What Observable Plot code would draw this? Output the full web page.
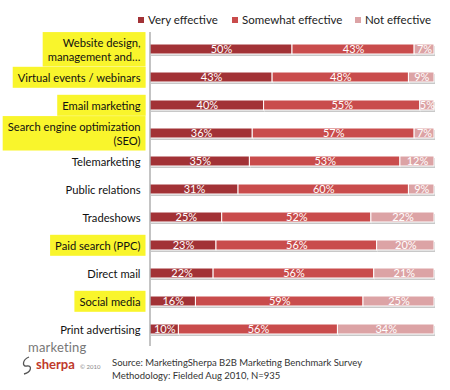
<!DOCTYPE html>
<html>
<head>
<meta charset="utf-8">
<script src="https://cdn.jsdelivr.net/npm/d3@7"></script>
<script src="https://cdn.jsdelivr.net/npm/@observablehq/plot@0.6"></script>
<style>
  body { margin: 0; background: #fff; font-family: Lato, "Open Sans", sans-serif; color: #222; }
  #wrap { position: relative; width: 450px; height: 390px; overflow: hidden; }
  #legend { position: absolute; left: 0; top: 0; width: 450px; height: 25px; font-size: 11.5px; }
  .li { position: absolute; top: 13px; white-space: nowrap; line-height: 14px; }
  .sw { display: inline-block; width: 6px; height: 6px; margin-right: 4px; vertical-align: 1px; }
  #chart { position: absolute; left: 0; top: 25px; }
  #source { position: absolute; left: 112px; top: 356px; font-size: 9.5px; line-height: 13px; color: #333; }
  #logo { position: absolute; left: 18px; top: 340px; width: 90px; height: 40px; }
  #logo .m { position: absolute; left: 10px; top: 0px; font-size: 13px; line-height: 15px; color: #777; letter-spacing: 0.2px; }
  #logo .s { position: absolute; left: 18px; top: 17px; font-size: 13px; line-height: 15px; color: #c0392b; font-weight: bold; }
  #logo .c { position: absolute; left: 62px; top: 23px; font-size: 6px; line-height: 7px; color: #888; }
  #logo svg { position: absolute; left: 2px; top: 15px; }
</style>
</head>
<body>
<div id="wrap">
  <div id="legend"></div>
  <div id="chart"></div>
  <div id="logo"><span class="m">marketing</span><svg width="14" height="20" viewBox="0 0 14 20"><path d="M9 2 C2 5, 2 12, 7 11 C12 10, 12 17, 4 19" fill="none" stroke="#555" stroke-width="1.3"/></svg><span class="s">sherpa</span><span class="c">© 2010</span></div>
  <div id="source">Source: MarketingSherpa B2B Marketing Benchmark Survey<br>Methodology: Fielded Aug 2010, N=935</div>
</div>
<script>
const categories = [
  "Website design,\nmanagement and…",
  "Virtual events / webinars",
  "Email marketing",
  "Search engine optimization\n(SEO)",
  "Telemarketing",
  "Public relations",
  "Tradeshows",
  "Paid search (PPC)",
  "Direct mail",
  "Social media",
  "Print advertising"
];
const highlighted = [true, true, true, true, false, false, false, true, false, true, false];
const seriesNames = ["Very effective", "Somewhat effective", "Not effective"];
const seriesColors = ["#a23236", "#c94c4c", "#dca3a5"];
const veryEffective =     [50, 43, 40, 36, 35, 31, 25, 23, 22, 16, 10];
const somewhatEffective = [43, 48, 55, 57, 53, 60, 52, 56, 56, 59, 56];
const notEffective =      [ 7,  9,  5,  7, 12,  9, 22, 20, 21, 25, 34];

const seriesValues = [veryEffective, somewhatEffective, notEffective];
const data = [];
categories.forEach((c, i) => {
  seriesNames.forEach((s, j) => {
    data.push({category: c, series: s, value: seriesValues[j][i]});
  });
});

// legend
const legendX = [138, 232, 355];
const legend = document.getElementById("legend");
seriesNames.forEach((s, j) => {
  const d = document.createElement("div");
  d.className = "li";
  d.style.left = legendX[j] + "px";
  d.innerHTML = `<span class="sw" style="background:${seriesColors[j]}"></span>${s}`;
  legend.appendChild(d);
});

const stackOpts = {x: "value", y: "category", z: "series", order: seriesNames, offset: "normalize"};

const plot = Plot.plot({
  width: 450,
  height: 322,
  marginLeft: 150,
  marginRight: 16,
  marginTop: 7,
  marginBottom: 1,
  style: {fontFamily: "Lato, 'Open Sans', sans-serif", fontSize: "11px", color: "#111"},
  x: {domain: [0, 1], axis: null},
  y: {domain: categories, paddingInner: 0.65, paddingOuter: 0.325, label: null},
  color: {domain: seriesNames, range: seriesColors},
  marks: [
    Plot.barX(data, Plot.stackX({...stackOpts, fill: "#c8c8c8", dx: 1, dy: 2})),
    Plot.barX(data, Plot.stackX({...stackOpts, fill: "series", stroke: "white", strokeWidth: 1})),
    Plot.text(data, Plot.stackX({...stackOpts, text: d => d.value + "%", fill: "white", fontSize: 11})),
    Plot.axisY({tickSize: 0, tickPadding: 10, fontSize: 11.2, lineHeight: 1.2, fill: "#111"}),
    Plot.ruleX([0], {stroke: "#888", strokeWidth: 1, dx: -0.5})
  ]
});
document.getElementById("chart").appendChild(plot);

// yellow highlight behind highlighted axis labels
const texts = plot.querySelectorAll('g[aria-label="y-axis tick label"] text');
texts.forEach(t => {
  const cat = typeof t.__data__ === "string" ? t.__data__ : null;
  const label = t.textContent;
  let idx = categories.indexOf(cat);
  if (idx < 0) idx = categories.findIndex(c => c.replace("\n", "") === label);
  if (idx < 0 || !highlighted[idx]) return;
  const bb = t.getBBox();
  const r = document.createElementNS("http://www.w3.org/2000/svg", "rect");
  r.setAttribute("x", bb.x - 5);
  r.setAttribute("y", bb.y - 4);
  r.setAttribute("width", bb.width + 10);
  r.setAttribute("height", bb.height + 8);
  r.setAttribute("fill", "#f9f52c");
  if (t.getAttribute("transform")) r.setAttribute("transform", t.getAttribute("transform"));
  t.parentNode.insertBefore(r, t.parentNode.firstChild);
});
</script>
</body>
</html>
